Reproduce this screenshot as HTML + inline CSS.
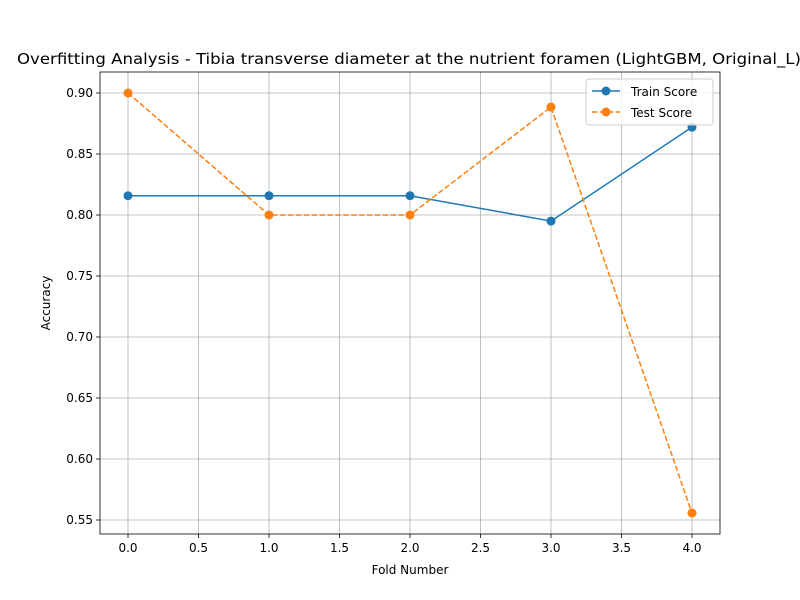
<!DOCTYPE html>
<html><head><meta charset="utf-8"><style>body{margin:0;background:#fff;overflow:hidden}svg{display:block;font-family:"DejaVu Sans","Liberation Sans",sans-serif}</style></head>
<body>
<svg id="chart" width="800" height="600" viewBox="0 0 800 600">
<rect width="800" height="600" fill="#fff"/>
<text x="17" y="64" font-size="15.5" textLength="784" lengthAdjust="spacingAndGlyphs">Overfitting Analysis - Tibia transverse diameter at the nutrient foramen (LightGBM, Original_L)</text>
<g id="grid"></g><g id="ticks"></g><g id="series"></g>
<rect x="100" y="72" width="620" height="462" fill="none" stroke="#000" stroke-width="0.8"/>
<text x="410" y="574" font-size="12" text-anchor="middle">Fold Number</text>
<text transform="translate(50,303) rotate(-90)" font-size="12" text-anchor="middle">Accuracy</text>
<g>
<rect x="586" y="79" width="127" height="46" rx="3" fill="#fff" fill-opacity="0.8" stroke="#ccc"/>
<line x1="592" y1="91" x2="620" y2="91" stroke="#1f77b4" stroke-width="1.5"/><circle cx="606" cy="91" r="4.5" fill="#1f77b4"/>
<text x="631" y="96" font-size="12">Train Score</text>
<line x1="592" y1="112" x2="620" y2="112" stroke="#ff7f0e" stroke-width="1.5" stroke-dasharray="5.5,2.4"/><circle cx="606" cy="112" r="4.5" fill="#ff7f0e"/>
<text x="631" y="117" font-size="12">Test Score</text>
</g>
</svg>
<script>
const folds=[0,1,2,3,4];
const trainScores=[0.8158,0.8158,0.8158,0.795,0.872];
const testScores=[0.9,0.8,0.8,0.8885,0.5557];
const xTicks=[0,0.5,1,1.5,2,2.5,3,3.5,4];
const yTicks=[0.55,0.6,0.65,0.7,0.75,0.8,0.85,0.9];
const NS="http://www.w3.org/2000/svg";
const X=v=>128+v*141, Y=v=>93+(0.9-v)*1220;
function mk(t,a,p){const e=document.createElementNS(NS,t);for(const k in a)e.setAttribute(k,a[k]);p.appendChild(e);return e;}
const g=document.getElementById('grid'),tk=document.getElementById('ticks'),s=document.getElementById('series');
xTicks.forEach(v=>{const x=X(v);
 const l=mk('line',{x1:x,x2:x,y1:72,y2:534,stroke:'#b0b0b0','stroke-width':0.8},g);
 
 mk('line',{x1:x,x2:x,y1:534,y2:538,stroke:'#000','stroke-width':0.8},tk);
 const t=mk('text',{x:x,y:552,'font-size':12,'text-anchor':'middle'},tk);t.textContent=v.toFixed(1);
 });
yTicks.forEach(v=>{const y=Y(v);
 const l=mk('line',{x1:100,x2:720,y1:y,y2:y,stroke:'#b0b0b0','stroke-width':0.8},g);
 
 mk('line',{x1:96,x2:100,y1:y,y2:y,stroke:'#000','stroke-width':0.8},tk);
 const t=mk('text',{x:93,y:y+4,'font-size':12,'text-anchor':'end'},tk);t.textContent=v.toFixed(2);
 });
function series(vals,color,dash,name){
 const pts=folds.map((f,i)=>X(f)+','+Y(vals[i])).join(' ');
 const a={points:pts,fill:'none',stroke:color,'stroke-width':1.5};if(dash)a['stroke-dasharray']=dash;
 const pl=mk('polyline',a,s);
 folds.forEach((f,i)=>{const c=mk('circle',{cx:X(f),cy:Y(vals[i]),r:4.5,fill:color},s);
 });}
series(trainScores,'#1f77b4',null,'train-score');
series(testScores,'#ff7f0e','5.5,2.4','test-score');
</script>
</body></html>
